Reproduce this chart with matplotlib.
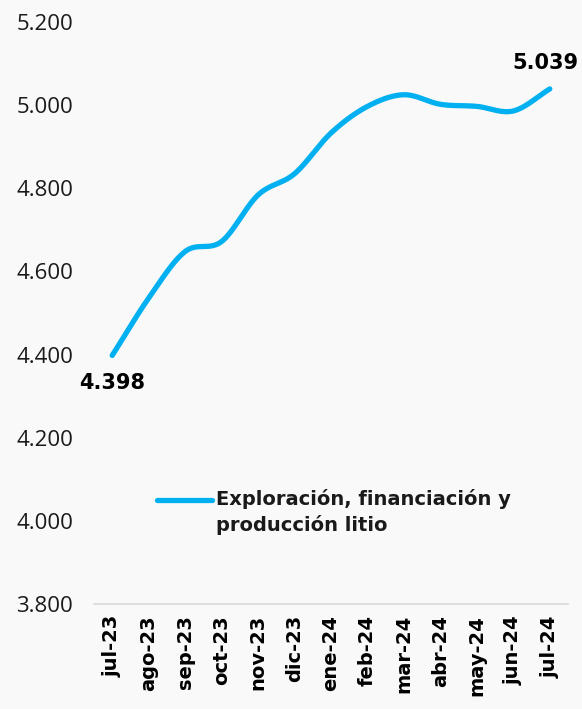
import matplotlib

matplotlib.use("Agg")
import matplotlib.pyplot as plt  # noqa: E402
import numpy as np  # noqa: E402
from matplotlib.ticker import FuncFormatter  # noqa: E402

months = ["jul-23", "ago-23", "sep-23", "oct-23", "nov-23", "dic-23", "ene-24",
          "feb-24", "mar-24", "abr-24", "may-24", "jun-24", "jul-24"]
values = [4398, 4536, 4648, 4672, 4784, 4835, 4933, 4997, 5025, 5002, 4997, 4986, 5039]
series_name = "Exploración, financiación y\nproducción litio"

BLUE, INK, BG = "#00B0F0", "#1a1a1a", "#f9f9f9"
BOLD = ["DejaVu Sans"]
plt.rcParams.update({"font.family": ["Open Sans", "DejaVu Sans"]})


def catmull_rom(x, y, n=30):
    # smooth curve through the points (like spreadsheet "smoothed line")
    x, y = np.asarray(x, float), np.asarray(y, float)
    px = np.concatenate([[2 * x[0] - x[1]], x, [2 * x[-1] - x[-2]]])
    py = np.concatenate([[2 * y[0] - y[1]], y, [2 * y[-1] - y[-2]]])
    xs, ys = [], []
    t = np.linspace(0, 1, n)
    for i in range(1, len(px) - 2):
        for p, out in ((px, xs), (py, ys)):
            p0, p1, p2, p3 = p[i - 1], p[i], p[i + 1], p[i + 2]
            out.append(0.5 * (2 * p1 + (-p0 + p2) * t + (2 * p0 - 5 * p1 + 4 * p2 - p3) * t**2
                              + (-p0 + 3 * p1 - 3 * p2 + p3) * t**3))
    return np.concatenate(xs), np.concatenate(ys)


def dots(v):
    return f"{v:,.0f}".replace(",", ".")


fig = plt.figure(figsize=(5.82, 7.09), dpi=100, facecolor=BG)
ax = fig.add_axes([0.1615, 0.148, 0.8145, 0.821], facecolor=BG)

xpos = np.arange(len(months))
sx, sy = catmull_rom(xpos, values)
ax.plot(sx, sy, color=BLUE, lw=3.8, solid_capstyle="round")

ax.set_xlim(-0.5, len(months) - 0.5)
ax.set_ylim(3800, 5200)
ax.set_yticks(np.arange(3800, 5201, 200))
ax.yaxis.set_major_formatter(FuncFormatter(lambda v, _: dots(v)))
ax.set_xticks(xpos)
ax.set_xticklabels(months, rotation=90, fontsize=14, fontweight="bold", color="black",
                   family=BOLD)
ax.tick_params(axis="y", length=0, labelsize=16, labelcolor=INK, pad=15)
ax.tick_params(axis="x", length=0, pad=8)
for sp in ("top", "right", "left"):
    ax.spines[sp].set_visible(False)
ax.spines["bottom"].set_color("#d9d9d9")
ax.spines["bottom"].set_linewidth(1.2)

ax.annotate(dots(values[0]), (xpos[0], values[0]), textcoords="offset points",
            xytext=(0, -20), ha="center", va="center", fontsize=15, fontweight="bold",
            color="black", family=BOLD)
ax.annotate(dots(values[-1]), (xpos[-1], values[-1]), textcoords="offset points",
            xytext=(-3, 19), ha="center", va="center", fontsize=15, fontweight="bold",
            color="black", family=BOLD)

# legend drawn by hand so the key sits on the first text line
ax.plot([0.133, 0.249], [0.179, 0.179], transform=ax.transAxes, color=BLUE, lw=3.8,
        solid_capstyle="round", clip_on=False)
ax.text(0.257, 0.197, series_name, transform=ax.transAxes, ha="left", va="top",
        fontsize=14, fontweight="bold", color=INK, linespacing=1.35, family=BOLD)

fig.savefig("out.png", dpi=100, facecolor=BG)
